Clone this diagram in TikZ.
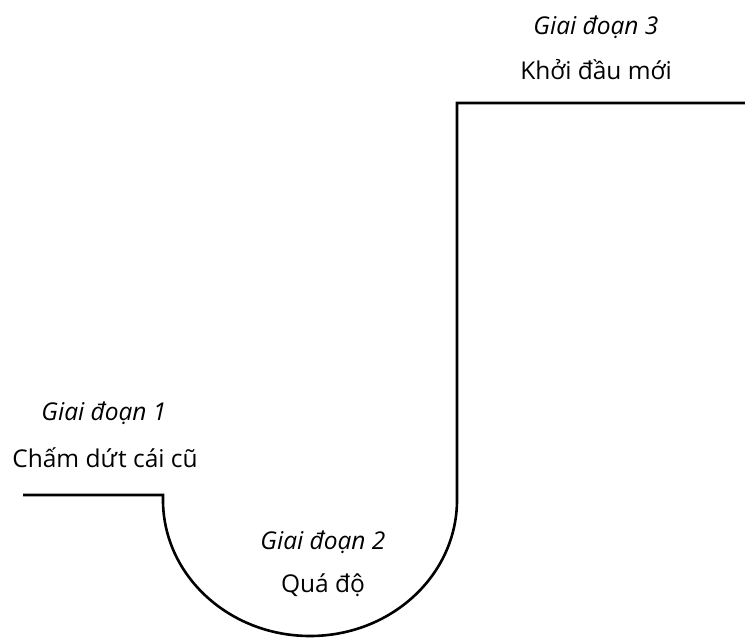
\documentclass[tikz,border=0pt]{standalone}
\usepackage{fontspec}
\setmainfont{Open Sans}
\begin{document}
\begin{tikzpicture}[x=1pt,y=-1pt,
  stage/.style={font=\fontsize{24.5}{28}\selectfont\itshape, inner sep=0pt},
  phase/.style={font=\fontsize{24.5}{28}\selectfont, inner sep=0pt},
  curve/.style={line width=2.6pt, line join=miter}]
  \useasboundingbox (0,0) rectangle (745,639);

  % labels of the three stages
  \node[stage] (s1) at (104,413) {Giai đoạn 1};
  \node[phase] (p1) at (105,458) {Chấm dứt cái cũ};
  \node[stage] (s2) at (323,542) {Giai đoạn 2};
  \node[phase] (p2) at (323,585) {Quá độ};
  \node[stage] (s3) at (596,27) {Giai đoạn 3};
  \node[phase] (p3) at (596,70) {Khởi đầu mới};

  % the path: old ending, dip of the transition, new start
  \coordinate (a) at (23,495);
  \coordinate (b) at (163,495);
  \coordinate (c) at (163,500);
  \coordinate (d) at (457,500);
  \coordinate (e) at (457,103);
  \coordinate (f) at (746,103);
  \draw[curve] (a) -- (b) -- (c) arc[start angle=180, end angle=360, x radius=147, y radius=-136] -- (e) -- (f);
\end{tikzpicture}
\end{document}
